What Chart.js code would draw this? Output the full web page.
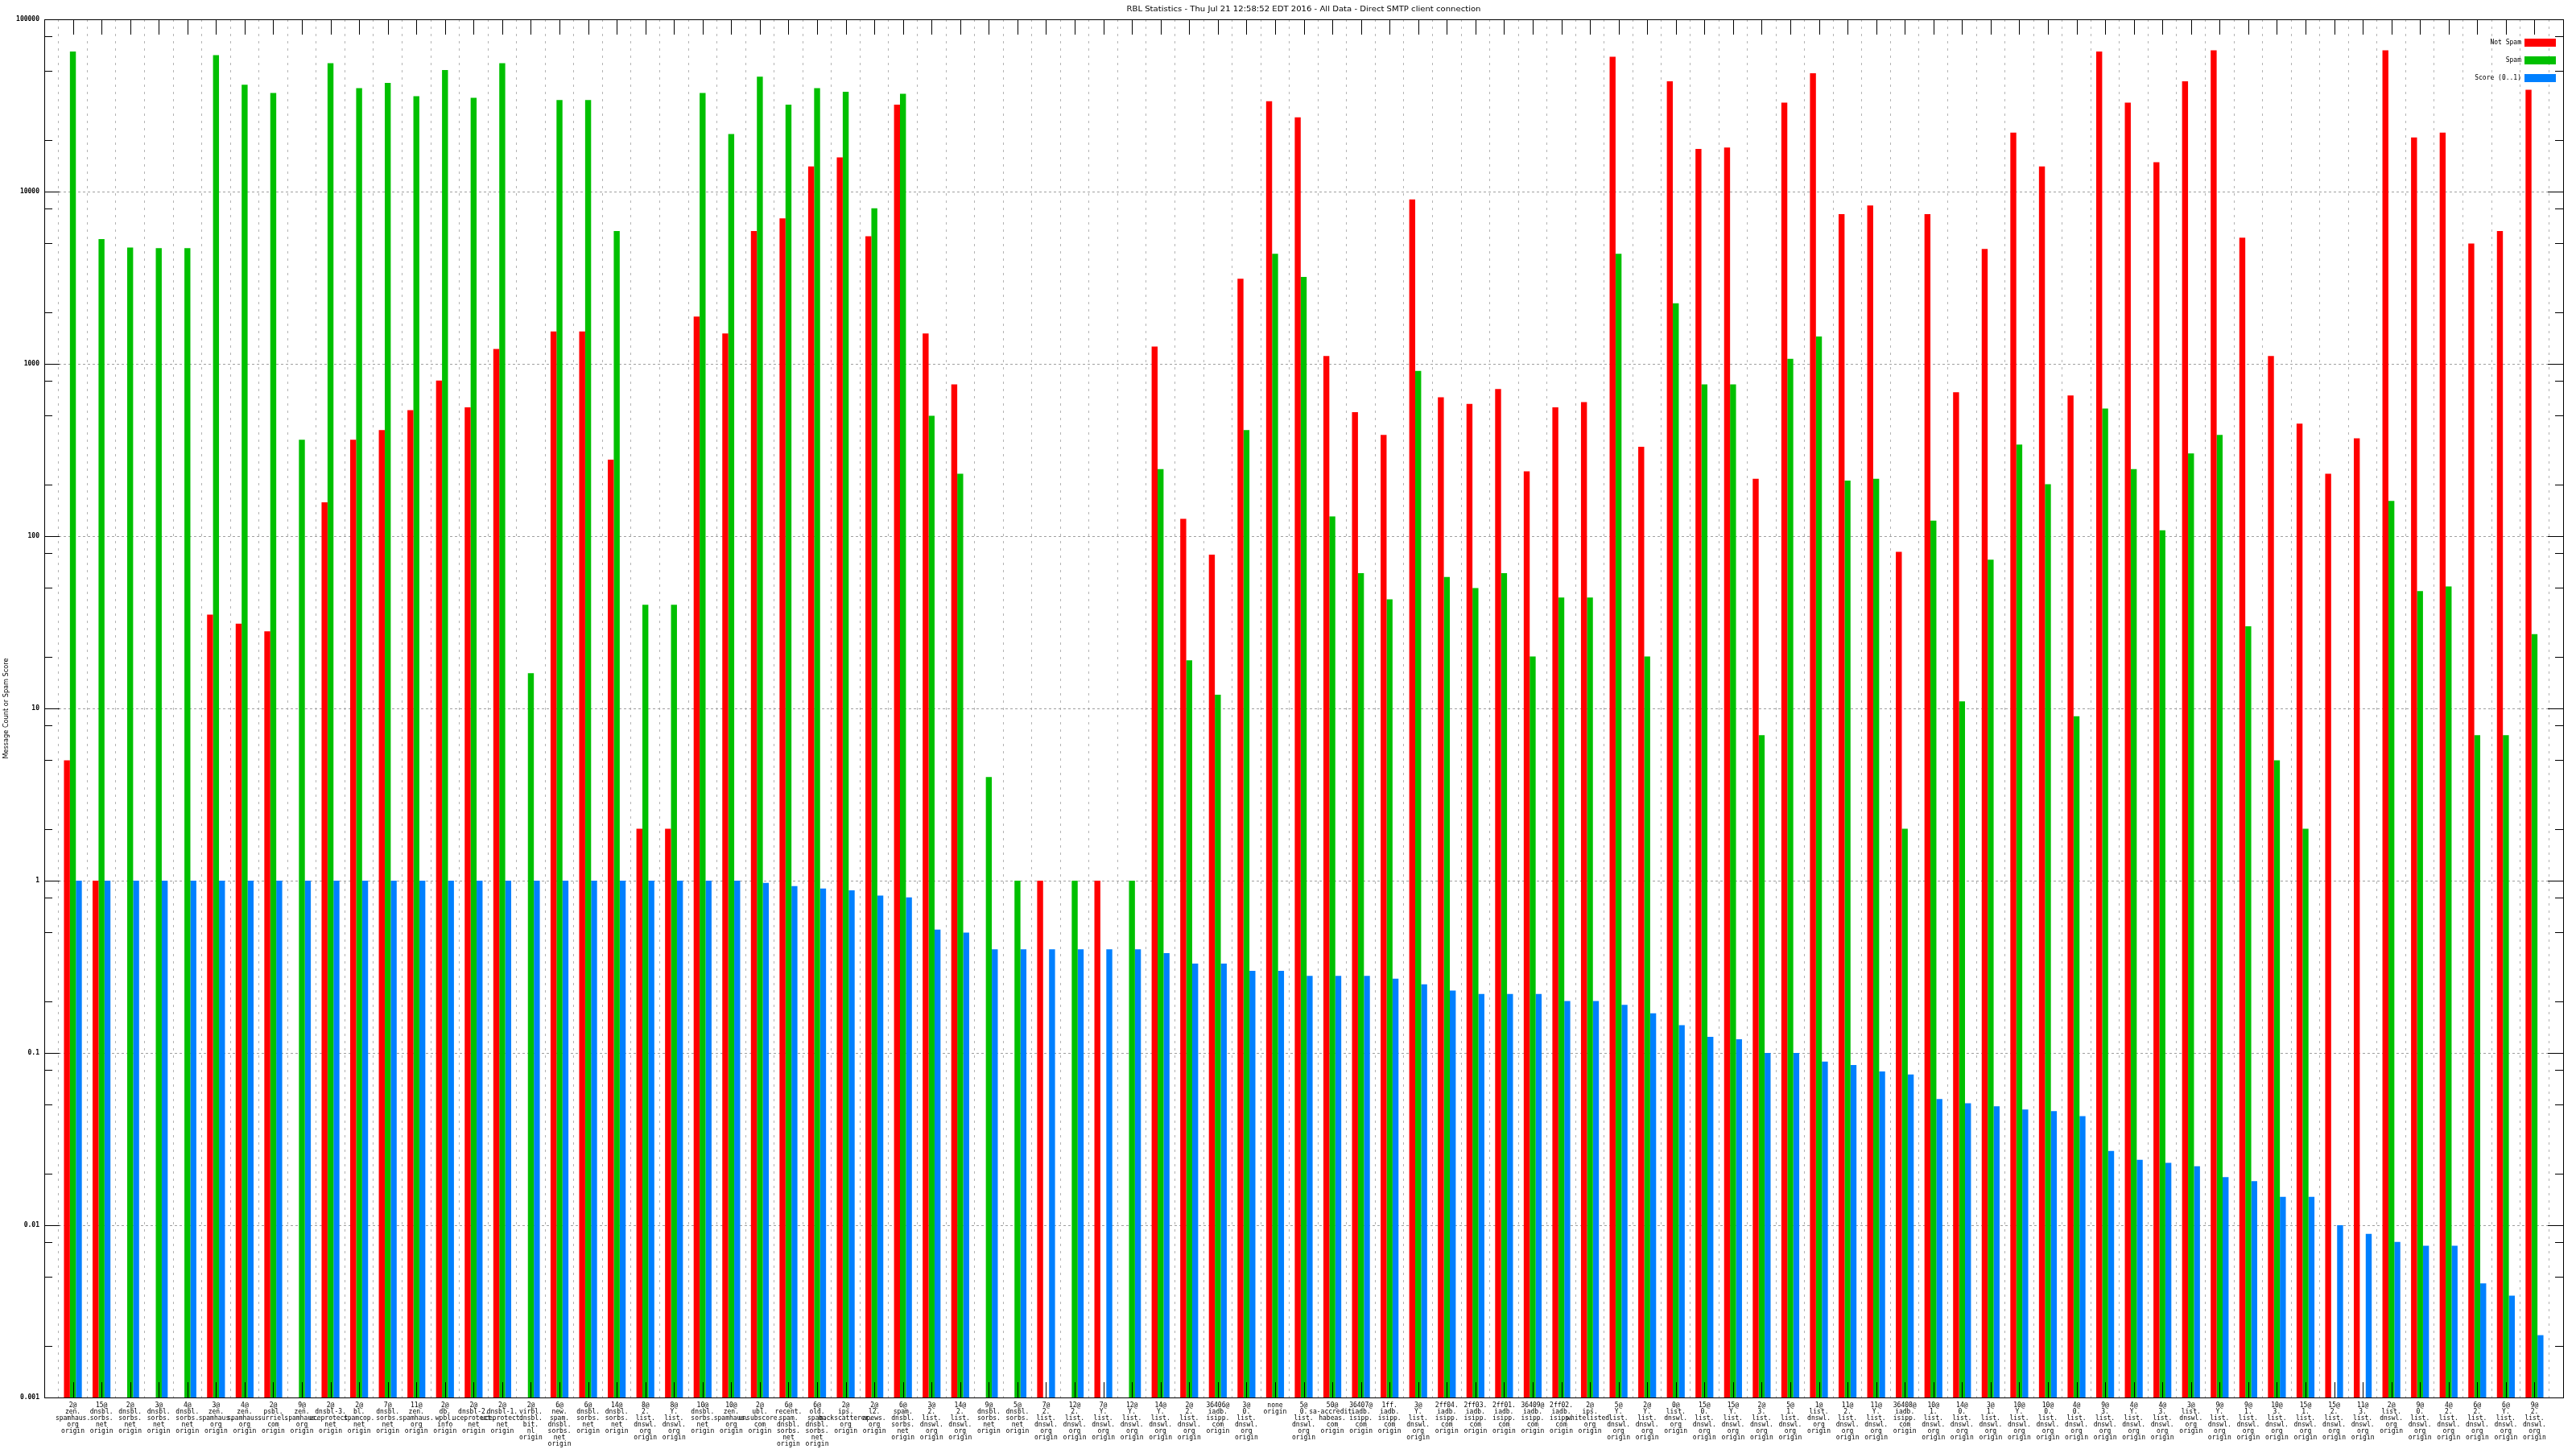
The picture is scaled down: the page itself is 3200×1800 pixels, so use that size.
<!DOCTYPE html>
<html>
<head>
<meta charset="utf-8">
<script src="https://cdn.jsdelivr.net/npm/chart.js@4.4.0/dist/chart.umd.min.js"></script>
<style>
html, body { margin: 0; padding: 0; background: #fff; }
#wrap { width: 3200px; height: 1800px; }
</style>
</head>
<body>
<div id="wrap"><canvas id="chart_rbl" width="3200" height="1800"></canvas></div>
<script>
var chartTitle = "RBL Statistics - Thu Jul 21 12:58:52 EDT 2016 - All Data - Direct SMTP client connection";
var yTitle = "Message Count or Spam Score";

// one entry per rbl, spaces become line breaks under the axis
var categories = [
  "2@ zen. spamhaus. org origin", "15@ dnsbl. sorbs. net origin", "2@ dnsbl. sorbs. net origin",
  "3@ dnsbl. sorbs. net origin", "4@ dnsbl. sorbs. net origin", "3@ zen. spamhaus. org origin",
  "4@ zen. spamhaus. org origin", "2@ psbl. surriel. com origin", "9@ zen. spamhaus. org origin",
  "2@ dnsbl-3. uceprotect. net origin", "2@ bl. spamcop. net origin", "7@ dnsbl. sorbs. net origin",
  "11@ zen. spamhaus. org origin", "2@ db. wpbl. info origin", "2@ dnsbl-2. uceprotect. net origin",
  "2@ dnsbl-1. uceprotect. net origin", "2@ virbl. dnsbl. bit. nl origin", "6@ new. spam. dnsbl. sorbs. net origin",
  "6@ dnsbl. sorbs. net origin", "14@ dnsbl. sorbs. net origin", "8@ 2. list. dnswl. org origin",
  "8@ Y. list. dnswl. org origin", "10@ dnsbl. sorbs. net origin", "10@ zen. spamhaus. org origin",
  "2@ ubl. unsubscore. com origin", "6@ recent. spam. dnsbl. sorbs. net origin", "6@ old. spam. dnsbl. sorbs. net origin",
  "2@ ips. backscatterer. org origin", "2@ l2. apews. org origin", "6@ spam. dnsbl. sorbs. net origin",
  "3@ 2. list. dnswl. org origin", "14@ 2. list. dnswl. org origin", "9@ dnsbl. sorbs. net origin",
  "5@ dnsbl. sorbs. net origin", "7@ 2. list. dnswl. org origin", "12@ 2. list. dnswl. org origin",
  "7@ Y. list. dnswl. org origin", "12@ Y. list. dnswl. org origin", "14@ Y. list. dnswl. org origin",
  "2@ 2. list. dnswl. org origin", "36406@ iadb. isipp. com origin", "3@ 0. list. dnswl. org origin",
  "none origin", "5@ 0. list. dnswl. org origin", "50@ sa-accredit. habeas. com origin",
  "36407@ iadb. isipp. com origin", "1ff. iadb. isipp. com origin", "3@ Y. list. dnswl. org origin",
  "2ff04. iadb. isipp. com origin", "2ff03. iadb. isipp. com origin", "2ff01. iadb. isipp. com origin",
  "36409@ iadb. isipp. com origin", "2ff02. iadb. isipp. com origin", "2@ ips. whitelisted. org origin",
  "5@ Y. list. dnswl. org origin", "2@ Y. list. dnswl. org origin", "0@ list. dnswl. org origin",
  "15@ 0. list. dnswl. org origin", "15@ Y. list. dnswl. org origin", "2@ 3. list. dnswl. org origin",
  "5@ 1. list. dnswl. org origin", "1@ list. dnswl. org origin", "11@ 2. list. dnswl. org origin",
  "11@ Y. list. dnswl. org origin", "36408@ iadb. isipp. com origin", "10@ 1. list. dnswl. org origin",
  "14@ 0. list. dnswl. org origin", "3@ 1. list. dnswl. org origin", "10@ Y. list. dnswl. org origin",
  "10@ 0. list. dnswl. org origin", "4@ 0. list. dnswl. org origin", "9@ 3. list. dnswl. org origin",
  "4@ Y. list. dnswl. org origin", "4@ 3. list. dnswl. org origin", "3@ list. dnswl. org origin",
  "9@ Y. list. dnswl. org origin", "9@ 1. list. dnswl. org origin", "10@ 3. list. dnswl. org origin",
  "15@ 1. list. dnswl. org origin", "15@ 2. list. dnswl. org origin", "11@ 3. list. dnswl. org origin",
  "2@ list. dnswl. org origin", "9@ 0. list. dnswl. org origin", "4@ 2. list. dnswl. org origin",
  "6@ 2. list. dnswl. org origin", "6@ Y. list. dnswl. org origin", "9@ 2. list. dnswl. org origin"
];

var notSpam = [
  5, 1, null, null, null, 35, 31, 28, null, 157,
  363, 413, 538, 800, 560, 1220, null, 1540, 1540, 278,
  2, 2, 1880, 1500, 5900, 7000, 14000, 15800, 5500, 32000,
  1500, 760, null, null, 1, null, 1, null, 1260, 126,
  78, 3120, 33500, 27000, 1110, 525, 387, 9000, 640, 585,
  715, 238, 560, 600, 60700, 330, 43700, 17700, 18000, 215,
  32800, 48600, 7400, 8300, 81, 7400, 685, 4650, 22000, 14000,
  655, 65000, 32800, 14800, 43700, 66000, 5400, 1110, 450, 230,
  370, 66000, 20600, 22000, 5000, 5900, 39000
];

var spam = [
  65000, 5300, 4730, 4700, 4700, 62000, 41700, 37400, 363, 55600,
  39900, 42700, 35800, 50800, 35000, 55600, 16, 34000, 34000, 5900,
  40, 40, 37400, 21600, 46500, 32000, 39900, 38000, 8000, 37000,
  500, 230, 4, 1, null, 1, null, 1, 245, 19,
  12, 413, 4350, 3200, 130, 61, 43, 910, 58, 50,
  61, 20, 44, 44, 4350, 20, 2250, 760, 760, 7,
  1070, 1440, 210, 215, 2, 123, 11, 73, 340, 200,
  9, 550, 245, 108, 302, 387, 30, 5, 2, null,
  null, 160, 48, 51, 7, 7, 27
];

var score = [
  1, 1, 1, 1, 1, 1, 1, 1, 1, 1,
  1, 1, 1, 1, 1, 1, 1, 1, 1, 1,
  1, 1, 1, 1, 0.97, 0.93, 0.9, 0.88, 0.82, 0.8,
  0.52, 0.5, 0.4, 0.4, 0.4, 0.4, 0.4, 0.4, 0.38, 0.33,
  0.33, 0.3, 0.3, 0.28, 0.28, 0.28, 0.27, 0.25, 0.23, 0.22,
  0.22, 0.22, 0.2, 0.2, 0.19, 0.17, 0.145, 0.124, 0.12, 0.1,
  0.1, 0.089, 0.085, 0.078, 0.075, 0.054, 0.051, 0.049, 0.047, 0.046,
  0.043, 0.027, 0.024, 0.023, 0.022, 0.019, 0.018, 0.0146, 0.0146, 0.01,
  0.0089, 0.008, 0.0076, 0.0076, 0.0046, 0.0039, 0.0023
];

var yTicks = [0.001, 0.01, 0.1, 1, 10, 100, 1000, 10000, 100000];
var minorSteps = [2, 5, 8];

var seriesNames = ["Not Spam", "Spam", "Score (0..1)"];
var seriesColors = ["#ff0000", "#00c000", "#0080ff"];

// gnuplot leaves a full slot empty on both sides, so pad the category list
function pad(arr) {
  return [null].concat(arr, [null]);
}
var labels = [""].concat(categories.map(function (c) { return c.split(" "); }), [""]);

function squeezeText(c, text, x, y, width) {
  var w = c.measureText(text).width;
  c.save();
  c.translate(x, y);
  c.scale(width / w, 1);
  c.fillText(text, 0, 0);
  c.restore();
}

// frame, inward ticks, title and the legend inside the plot
var gnuplotLook = {
  id: "gnuplotLook",
  afterDatasetsDraw: function (chart) {
    var c = chart.ctx, a = chart.chartArea;
    var xs = chart.scales.x, ys = chart.scales.y;
    c.save();
    c.strokeStyle = "#000";
    c.lineWidth = 1;
    c.beginPath();
    for (var e = -3; e <= 5; e++) {
      var base = Math.pow(10, e);
      var py = Math.round(ys.getPixelForValue(base)) + 0.5;
      c.moveTo(a.left, py); c.lineTo(a.left + 19, py);
      c.moveTo(a.right, py); c.lineTo(a.right - 19, py);
      if (e === 5) continue;
      minorSteps.forEach(function (m) {
        var my = Math.round(ys.getPixelForValue(m * base)) + 0.5;
        c.moveTo(a.left, my); c.lineTo(a.left + 10, my);
        c.moveTo(a.right, my); c.lineTo(a.right - 10, my);
      });
    }
    for (var i = 1; i <= categories.length; i++) {
      var px = Math.round(xs.getPixelForValue(i)) + 0.5;
      c.moveTo(px, a.top); c.lineTo(px, a.top + 19);
      c.moveTo(px, a.bottom); c.lineTo(px, a.bottom - 19);
    }
    c.stroke();
    c.strokeRect(Math.round(a.left) + 0.5, Math.round(a.top) + 0.5,
      Math.round(a.right - a.left), Math.round(a.bottom - a.top));

    c.fillStyle = "#000";
    c.textAlign = "center";
    c.textBaseline = "middle";
    c.font = "9px 'DejaVu Sans'";
    squeezeText(c, chartTitle, (a.left + a.right) / 2, 12, 440);

    c.save();
    c.translate(8, (a.top + a.bottom) / 2);
    c.rotate(-Math.PI / 2);
    c.font = "8px 'DejaVu Sans'";
    squeezeText(c, yTitle, 0, 0, 125);
    c.restore();

    c.textAlign = "right";
    c.font = "8px 'DejaVu Sans Mono'";
    for (var k = 0; k < seriesNames.length; k++) {
      var ly = 53 + k * 22;
      c.fillStyle = "#000";
      c.fillText(seriesNames[k], 3132, ly);
      c.fillStyle = seriesColors[k];
      c.fillRect(3136, ly - 5, 39, 10);
    }
    c.restore();
  }
};

var ctx = document.getElementById("chart_rbl").getContext("2d");
var chart = new Chart(ctx, {
  type: "bar",
  data: {
    labels: labels,
    datasets: [
      { label: seriesNames[0], data: pad(notSpam), backgroundColor: seriesColors[0] },
      { label: seriesNames[1], data: pad(spam), backgroundColor: seriesColors[1] },
      { label: seriesNames[2], data: pad(score), backgroundColor: seriesColors[2] }
    ]
  },
  options: {
    responsive: false,
    animation: false,
    devicePixelRatio: 1,
    layout: { padding: { top: 24, right: 16, left: 0, bottom: 0 } },
    datasets: { bar: { categoryPercentage: 0.625, barPercentage: 1.0 } },
    plugins: {
      legend: { display: false },
      tooltip: { enabled: false }
    },
    scales: {
      x: {
        offset: false,
        grid: { color: "#b4b4b4", lineWidth: 1, drawTicks: false },
        border: { display: false, dash: [3, 6] },
        ticks: {
          autoSkip: false,
          maxRotation: 0,
          minRotation: 0,
          padding: 6,
          color: "#000",
          font: { family: "'DejaVu Sans Mono'", size: 8, lineHeight: 1 }
        },
        afterFit: function (scale) { scale.height = 64; }
      },
      y: {
        type: "logarithmic",
        min: 0.001,
        max: 100000,
        grid: { color: "#a0a0a0", lineWidth: 1, drawTicks: false },
        border: { display: false, dash: [3, 3] },
        afterBuildTicks: function (scale) {
          scale.ticks = yTicks.map(function (v) { return { value: v }; });
        },
        ticks: {
          padding: 6,
          color: "#000",
          font: { family: "'DejaVu Sans Mono'", size: 8, weight: "bold" },
          callback: function (v) { return String(v); }
        },
        afterFit: function (scale) { scale.width = 55; }
      }
    }
  },
  plugins: [gnuplotLook]
});
</script>
</body>
</html>
